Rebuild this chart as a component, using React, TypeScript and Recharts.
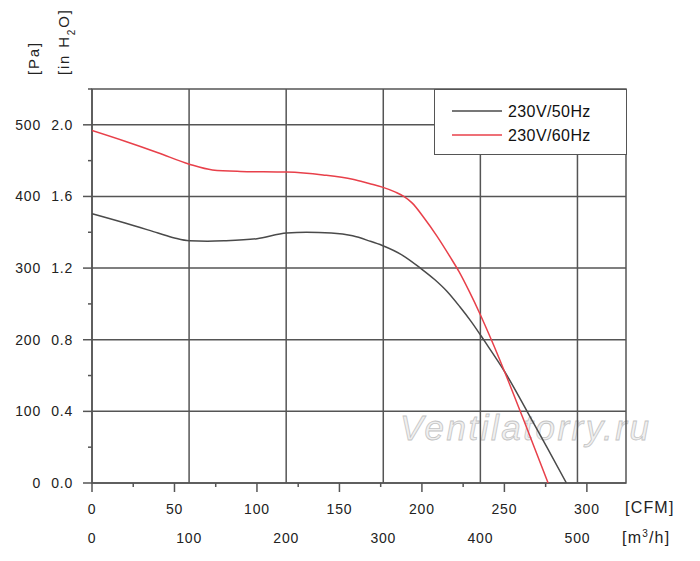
import React from 'react';
import {
  LineChart,
  Line,
  XAxis,
  YAxis,
  CartesianGrid,
  ReferenceArea,
  Legend,
} from 'recharts';

// 230V/50Hz curve (CFM, Pa)
const cfm50 = [0, 20, 40, 50, 59, 70, 80, 100, 118, 130, 145, 158, 168, 176, 188.5, 199.6, 207.7, 215, 223, 230, 238, 250, 264, 276, 287.6];
const pa50 = [376, 363, 349, 342, 338, 337.5, 338, 341, 349, 350, 349, 345, 338, 331.5, 317.5, 299, 284, 268, 246, 225, 198, 156, 99, 49, 0];

// 230V/60Hz curve (CFM, Pa)
const cfm60 = [0, 20, 40, 59, 73, 90, 118, 140, 158, 168, 176, 184, 189, 194, 201, 209, 217, 222.5, 229, 235, 243, 250, 261, 276.5];
const pa60 = [492, 477, 461, 445, 437, 435, 434, 430, 424, 418, 413, 406, 400, 391, 371, 345, 316, 295, 266, 237, 195, 156, 92, 0];

const paTicks = [0, 50, 100, 150, 200, 250, 300, 350, 400, 450, 500, 550];
const paMajor = [0, 100, 200, 300, 400, 500];
const inH2OLabels = ['0.0', '0.4', '0.8', '1.2', '1.6', '2.0'];
const cfmTicks = [0, 25, 50, 75, 100, 125, 150, 175, 200, 225, 250, 275, 300];
const cfmMajor = [0, 50, 100, 150, 200, 250, 300];
const m3Ticks = [0, 100, 200, 300, 400, 500];

const M3_MAX = 550;
const CFM_MAX = M3_MAX / 1.699;

const series50 = cfm50.map((c, i) => ({ cfm: c, pa: pa50[i] }));
const series60 = cfm60.map((c, i) => ({ cfm: c, pa: pa60[i] }));

const GRID = '#555';
const C50 = '#4a4a4a';
const C60 = '#e8404a';
const TEXT = '#222';
const FONT = '"Liberation Sans", Arial, sans-serif';

const labelStyle = { fontSize: 14, letterSpacing: 0.8, fill: TEXT, fontFamily: FONT };

function PaTick({ x, y, payload }: any) {
  const v = payload.value;
  const idx = paMajor.indexOf(v);
  const major = idx >= 0;
  return (
    <g>
      <line x1={x - (major ? 9 : 4)} x2={x} y1={y} y2={y} stroke={GRID} strokeWidth={1.5} />
      {major && (
        <>
          <text x={x - 51} y={y + 5} textAnchor="end" {...labelStyle}>
            {v}
          </text>
          <text x={x - 19} y={y + 5} textAnchor="end" {...labelStyle}>
            {inH2OLabels[idx]}
          </text>
        </>
      )}
    </g>
  );
}

function CfmTick({ x, y, payload }: any) {
  const v = payload.value;
  const major = cfmMajor.includes(v);
  return (
    <g>
      <line x1={x} x2={x} y1={y} y2={y + (major ? 9 : 4)} stroke={GRID} strokeWidth={1.5} />
      {major && (
        <text x={x} y={y + 31} textAnchor="middle" {...labelStyle}>
          {v}
        </text>
      )}
    </g>
  );
}

function M3Tick({ x, y, payload }: any) {
  return (
    <text x={x} y={y + 20} textAnchor="middle" {...labelStyle}>
      {payload.value}
    </text>
  );
}

function LegendBox() {
  const rows = [
    { name: '230V/50Hz', color: C50 },
    { name: '230V/60Hz', color: C60 },
  ];
  return (
    <div
      style={{
        width: 193,
        height: 66,
        boxSizing: 'border-box',
        border: `1.5px solid ${GRID}`,
        background: '#fff',
      }}
    >
      <svg width={190} height={63}>
        {rows.map((r, i) => (
          <g key={r.name}>
            <line x1={17} x2={67} y1={21 + i * 24} y2={21 + i * 24} stroke={r.color} strokeWidth={1.5} />
            <text x={73} y={27 + i * 24} fontSize={16} letterSpacing={0.4} fill="#111" fontFamily={FONT}>
              {r.name}
            </text>
          </g>
        ))}
      </svg>
    </div>
  );
}

export default function App() {
  return (
    <div style={{ position: 'absolute', left: 0, top: 0, width: 700, height: 561, background: '#fff', fontFamily: FONT }}>
      <div
        style={{
          position: 'absolute',
          left: 400,
          top: 408,
          fontSize: 35,
          fontStyle: 'italic',
          letterSpacing: 2.5,
          color: '#f0f0f0',
          WebkitTextStroke: '0.8px #c4c4c4',
          fontFamily: FONT,
          zIndex: 0,
        }}
      >
        Ventilatorry.ru
      </div>
      <svg width={700} height={90} style={{ position: 'absolute', left: 0, top: 0 }}>
        <text transform="translate(39,75) rotate(-90)" fontSize={15} letterSpacing={1.8} fill={TEXT} fontFamily={FONT}>
          [Pa]
        </text>
        <text transform="translate(69,75) rotate(-90)" fontSize={15} letterSpacing={1.8} fill={TEXT} fontFamily={FONT}>
          [in H
          <tspan dy={6} fontSize={10}>2</tspan>
          <tspan dy={-6}>O]</tspan>
        </text>
      </svg>
      <div style={{ position: 'absolute', left: 0, top: 0, zIndex: 1 }}>
        <LineChart width={700} height={561} margin={{ top: 89, right: 74, bottom: 0, left: 0 }}>
          <XAxis
            xAxisId="cfm"
            type="number"
            dataKey="cfm"
            domain={[0, CFM_MAX]}
            ticks={cfmTicks}
            tick={<CfmTick />}
            tickSize={0}
            tickMargin={0}
            axisLine={false}
            tickLine={false}
            height={40}
            allowDataOverflow
          />
          <XAxis
            xAxisId="m3"
            type="number"
            dataKey="cfm"
            domain={[0, M3_MAX]}
            ticks={m3Ticks}
            tick={<M3Tick />}
            tickSize={0}
            tickMargin={0}
            axisLine={false}
            tickLine={false}
            height={38}
            allowDataOverflow
          />
          <YAxis
            yAxisId="pa"
            type="number"
            domain={[0, 550]}
            ticks={paTicks}
            tick={<PaTick />}
            tickSize={0}
            tickMargin={0}
            axisLine={false}
            tickLine={false}
            width={92}
            allowDataOverflow
          />
          <CartesianGrid
            xAxisId="m3"
            yAxisId="pa"
            stroke={GRID}
            strokeWidth={1.5}
            horizontalValues={paMajor}
            verticalValues={m3Ticks}
          />
          <ReferenceArea
            xAxisId="m3"
            yAxisId="pa"
            x1={0}
            x2={M3_MAX}
            y1={0}
            y2={550}
            fill="none"
            stroke={GRID}
            strokeWidth={1.5}
          />
          <Line
            xAxisId="cfm"
            yAxisId="pa"
            data={series50}
            dataKey="pa"
            name="230V/50Hz"
            type="monotone"
            stroke={C50}
            strokeWidth={1.5}
            dot={false}
            isAnimationActive={false}
          />
          <Line
            xAxisId="cfm"
            yAxisId="pa"
            data={series60}
            dataKey="pa"
            name="230V/60Hz"
            type="monotone"
            stroke={C60}
            strokeWidth={1.5}
            dot={false}
            isAnimationActive={false}
          />
          <Legend
            layout="vertical"
            align="center"
            verticalAlign="middle"
            content={() => <LegendBox />}
            wrapperStyle={{ position: 'absolute', left: 434, top: 89, width: 193, height: 66 }}
          />
        </LineChart>
      </div>
      <div style={{ position: 'absolute', left: 625, top: 499, fontSize: 16, letterSpacing: 1.2, color: TEXT, fontFamily: FONT }}>
        [CFM]
      </div>
      <div style={{ position: 'absolute', left: 622, top: 528, fontSize: 16, letterSpacing: 1.2, color: TEXT, fontFamily: FONT }}>
        [m<sup style={{ fontSize: 10 }}>3</sup>/h]
      </div>
    </div>
  );
}
